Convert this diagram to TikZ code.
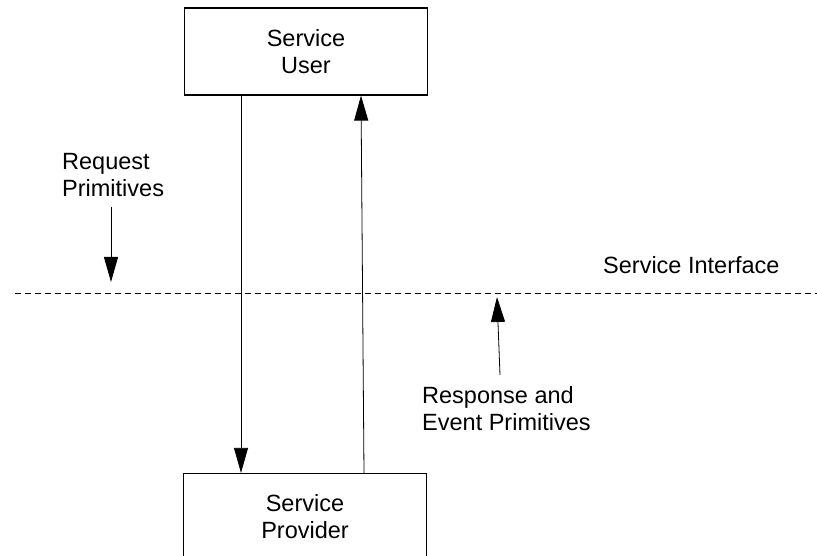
\documentclass[tikz,border=0pt]{standalone}
\usepackage{fontspec}
\setmainfont{Liberation Sans}
\usetikzlibrary{arrows.meta}
\begin{document}
\begin{tikzpicture}[x=1pt,y=-1pt,
  lbl/.style={font=\fontsize{23.5}{27}\selectfont, inner sep=0pt, align=left},
  boxnode/.style={draw, line width=1.2pt, minimum width=243pt, minimum height=87pt,
    font=\fontsize{23.5}{27}\selectfont, align=center, inner sep=0pt},
  flow/.style={line width=0.8pt, -{Triangle[length=25pt,width=14pt]}},
  iface/.style={line width=0.8pt, dash pattern=on 6pt off 4pt}]
  \useasboundingbox (0,0) rectangle (817,556);

  % the two entities
  \node[boxnode] (user) at (306,51.5) {Service\\User};
  \node[boxnode] (provider) at (305,517) {Service\\Provider};

  % service interface line
  \coordinate (ifl) at (15,293);
  \coordinate (ifr) at (817,293);
  \draw[iface] (ifl) -- (ifr);

  % primitives passing between user and provider
  \draw[flow] ([xshift=-65pt]user.south) -- ([xshift=-64pt]provider.north);
  \draw[flow] ([xshift=59pt]provider.north) -- ([xshift=55pt]user.south);

  % labels
  \node[lbl, anchor=north west] (req) at (62,153) {Request\\Primitives};
  \node[lbl, anchor=north west] (ifname) at (603,256) {Service Interface};
  \node[lbl, anchor=north west] (resp) at (422,386) {Response and\\Event Primitives};

  \coordinate (reqa) at (111,207);
  \coordinate (reqb) at (111,282);
  \draw[flow] (reqa) -- (reqb);
  \coordinate (respa) at (500,375);
  \coordinate (respb) at (497,297);
  \draw[flow] (respa) -- (respb);
\end{tikzpicture}
\end{document}
